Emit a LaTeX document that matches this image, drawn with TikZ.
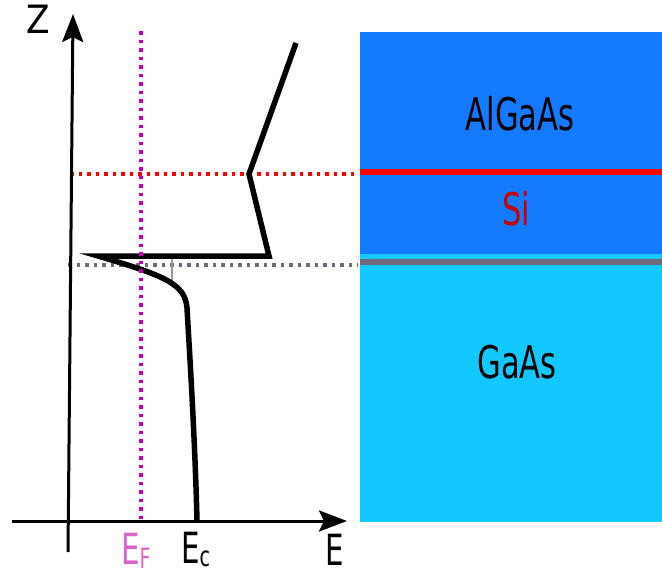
\documentclass[tikz,border=0pt]{standalone}
\usepackage{fontspec}
\setmainfont{DejaVu Sans}
\usetikzlibrary{arrows.meta,positioning}
\definecolor{alblue}{RGB}{20,122,255}
\definecolor{gablue}{RGB}{18,200,255}
\definecolor{fermi}{RGB}{200,0,180}
\definecolor{fermitxt}{RGB}{220,100,205}
\definecolor{dopant}{RGB}{200,0,0}
\definecolor{iface}{RGB}{112,104,124}
\newcommand{\narrow}[2][0.68]{\scalebox{#1}[1]{#2}}
\tikzset{
  axis/.style={line width=3pt,-{Stealth[length=28pt,width=21pt,inset=5pt]}},
  band/.style={line width=5.5pt,line join=miter},
  guide/.style={line width=3.5pt,dash pattern=on 3.5pt off 5pt},
  sheet/.style={line width=6pt},
  big/.style={font=\fontsize{45}{50}\selectfont,inner sep=0pt,anchor=base},
  ax/.style={font=\fontsize{43}{46}\selectfont,inner sep=0pt,anchor=base west}
}

\begin{document}
\begin{tikzpicture}[x=1pt,y=-1pt]
\useasboundingbox (0,0) rectangle (662,574);
% layers
\fill[alblue] (360,32) rectangle (662,254);
\fill[gablue] (360,254) rectangle (662,522);
\draw[sheet,red] (360,171.5) -- (662,171.5);
\draw[sheet,iface] (360,262) -- (662,262);
\node[big] (al) at (520,130) {\narrow{AlGaAs}};
\node[big,text=dopant] (si) at (516,225) {\narrow{Si}};
\node[big] (ga) at (517,378) {\narrow{GaAs}};
% guides
\draw[guide,red] (70,174) -- (358,174);
\draw[guide,iface] (68,265) -- (358,265);
% conduction band
\coordinate (top) at (296,43);
\coordinate (kink) at (249,174);
\coordinate (edge) at (269,256);
\coordinate (spike) at (98,256);
\coordinate (bend) at (187,308);
\coordinate (bulk) at (197,521);
\draw[line width=1.5pt,gray!80] (172,257) -- (172,284);
\draw[band] (top) -- (kink) -- (edge) -- (spike)
  .. controls (166,276) and (185,284) .. (bend)
  .. controls (190,360) and (195,440) .. (bulk);
% Fermi level
\draw[guide,fermi] (141,31) -- (141,521);
% axes
\coordinate (o1) at (12,521);
\coordinate (eend) at (347,521);
\coordinate (o2) at (68,552);
\coordinate (zend) at (73,14);
\draw[axis] (o1) -- (eend);
\draw[axis] (o2) -- (zend);
\node[font=\fontsize{39}{42}\selectfont,inner sep=0pt,anchor=base] (z) at (38,33) {\narrow[0.88]{Z}};
\node[ax] (e) at (325,565) {\narrow{E}};
\node[ax,text=fermitxt] (ef) at (121,564) {\narrow{E}\raisebox{-4pt}{\fontsize{28}{30}\selectfont\narrow{F}}};
\node[ax] (ec) at (181,563) {\narrow{E}\raisebox{-3pt}{\fontsize{28}{30}\selectfont\narrow{c}}};
\end{tikzpicture}
\end{document}
